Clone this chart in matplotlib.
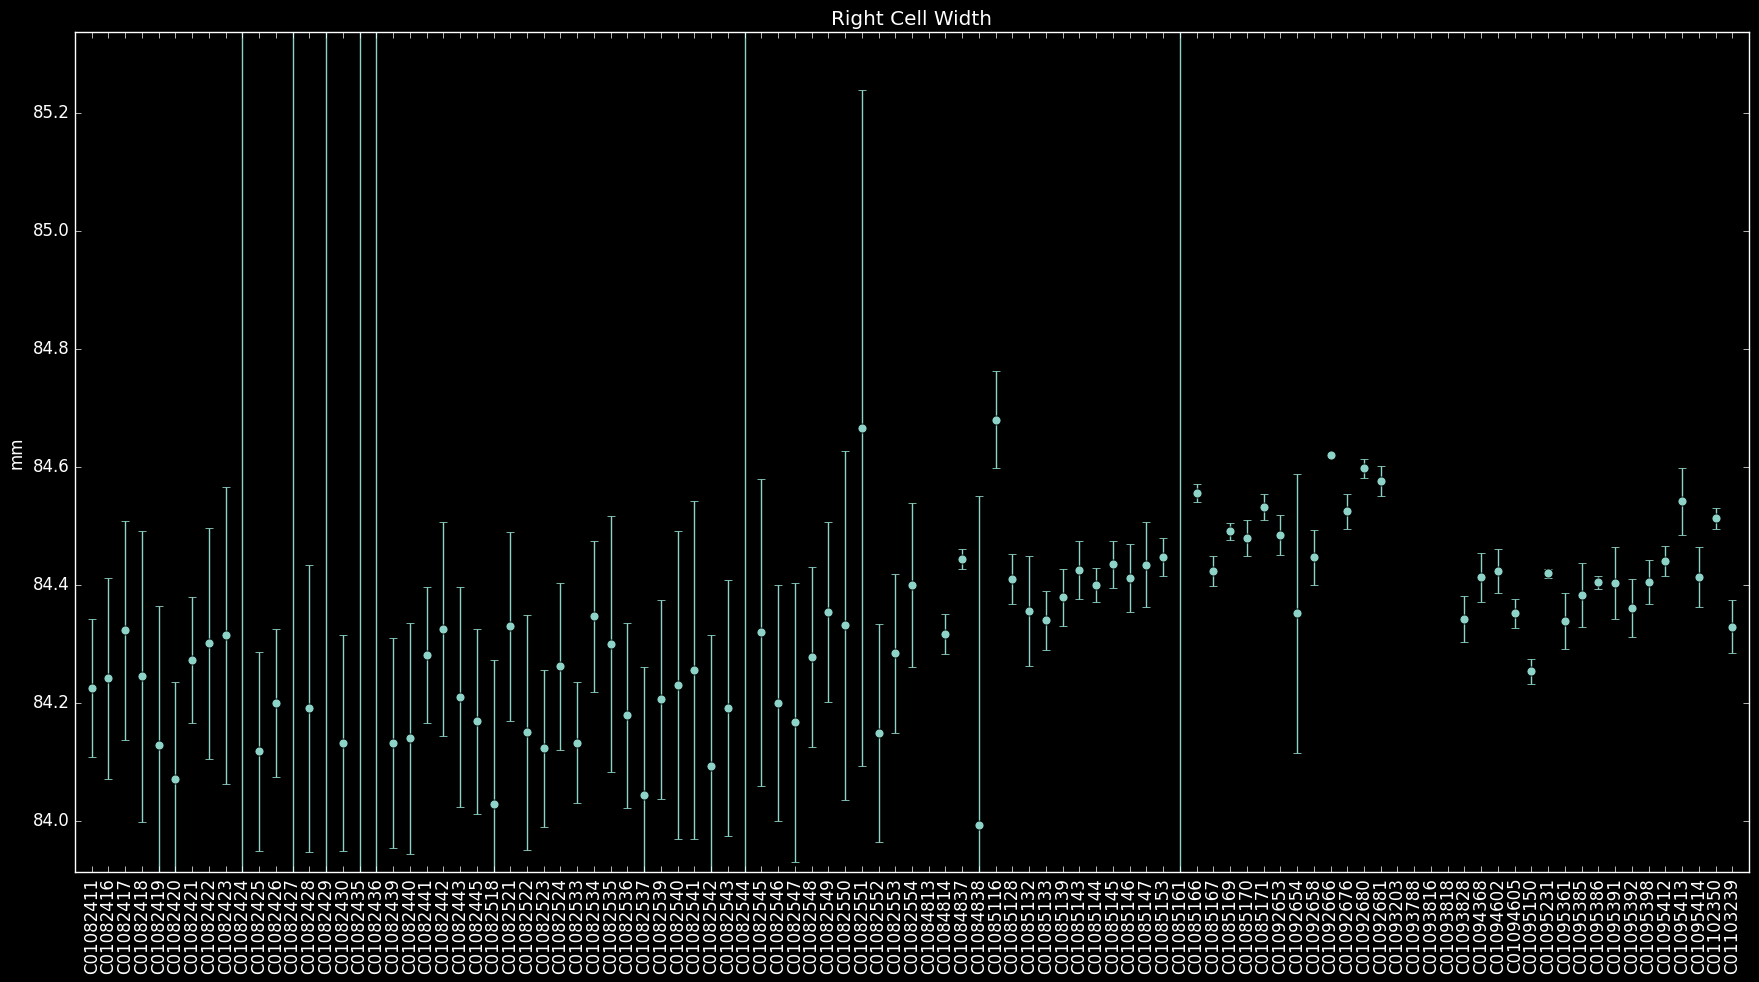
import numpy as np
import matplotlib
matplotlib.use("Agg")
import matplotlib.pyplot as plt

plt.style.use(["classic", "dark_background"])
plt.rcParams["font.family"] = ["DejaVu Sans"]

cells = [
    "C01082411", "C01082416", "C01082417", "C01082418", "C01082419", "C01082420",
    "C01082421", "C01082422", "C01082423", "C01082424", "C01082425", "C01082426",
    "C01082427", "C01082428", "C01082429", "C01082430", "C01082435", "C01082436",
    "C01082439", "C01082440", "C01082441", "C01082442", "C01082443", "C01082445",
    "C01082518", "C01082521", "C01082522", "C01082523", "C01082524", "C01082533",
    "C01082534", "C01082535", "C01082536", "C01082537", "C01082539", "C01082540",
    "C01082541", "C01082542", "C01082543", "C01082544", "C01082545", "C01082546",
    "C01082547", "C01082548", "C01082549", "C01082550", "C01082551", "C01082552",
    "C01082553", "C01082554", "C01084813", "C01084814", "C01084837", "C01084838",
    "C01085116", "C01085128", "C01085132", "C01085133", "C01085139", "C01085143",
    "C01085144", "C01085145", "C01085146", "C01085147", "C01085153", "C01085161",
    "C01085166", "C01085167", "C01085169", "C01085170", "C01085171", "C01092653",
    "C01092654", "C01092658", "C01092666", "C01092676", "C01092680", "C01092681",
    "C01093203", "C01093788", "C01093816", "C01093818", "C01093828", "C01094368",
    "C01094602", "C01094605", "C01095150", "C01095231", "C01095361", "C01095385",
    "C01095386", "C01095391", "C01095392", "C01095398", "C01095412", "C01095413",
    "C01095414", "C01102350", "C01103239",
]

nan = np.nan
mean_width = [
    84.225, 84.242, 84.323, 84.245, 84.128, 84.071, 84.273, 84.301, 84.315, 86.500,
    84.118, 84.200, 86.500, 84.191, 86.500, 84.132, 86.500, 86.500, 84.133, 84.140,
    84.281, 84.325, 84.210, 84.169, 84.028, 84.330, 84.150, 84.123, 84.262, 84.133,
    84.347, 84.300, 84.179, 84.044, 84.206, 84.230, 84.256, 84.093, 84.191, 86.500,
    84.320, 84.200, 84.167, 84.278, 84.354, 84.332, 84.666, 84.149, 84.284, 84.400,
    nan, 84.317, 84.444, 83.994, 84.680, 84.410, 84.356, 84.340, 84.379, 84.425,
    84.400, 84.435, 84.412, 84.434, 84.447, 86.500, 84.556, 84.424, 84.491, 84.480,
    84.532, 84.485, 84.352, 84.447, 84.620, 84.525, 84.598, 84.576, nan, nan,
    nan, nan, 84.342, 84.413, 84.424, 84.352, 84.254, 84.420, 84.339, 84.383,
    84.405, 84.403, 84.361, 84.405, 84.441, 84.542, 84.413, 84.513, 84.329,
]

std_width = [
    0.117, 0.170, 0.185, 0.246, 0.236, 0.164, 0.107, 0.196, 0.252, 3.000,
    0.169, 0.126, 3.000, 0.243, 3.000, 0.183, 3.000, 3.000, 0.178, 0.196,
    0.115, 0.181, 0.187, 0.157, 0.245, 0.160, 0.200, 0.133, 0.142, 0.103,
    0.128, 0.217, 0.157, 0.217, 0.168, 0.261, 0.286, 0.222, 0.217, 3.000,
    0.260, 0.200, 0.236, 0.152, 0.152, 0.296, 0.573, 0.185, 0.135, 0.139,
    nan, 0.034, 0.017, 0.557, 0.082, 0.043, 0.093, 0.050, 0.048, 0.049,
    0.029, 0.040, 0.057, 0.072, 0.032, 3.000, 0.015, 0.025, 0.014, 0.031,
    0.022, 0.034, 0.237, 0.047, 0.000, 0.030, 0.016, 0.025, nan, nan,
    nan, nan, 0.039, 0.041, 0.037, 0.025, 0.021, 0.008, 0.048, 0.054,
    0.011, 0.061, 0.049, 0.037, 0.026, 0.057, 0.051, 0.018, 0.045,
]

fig = plt.figure(figsize=(17.59, 9.82), dpi=100)
ax = fig.add_axes([75 / 1759, 1 - 872.3 / 982, (1749 - 75) / 1759, (872.3 - 32.3) / 982])

x = np.arange(len(cells))
ax.errorbar(x, mean_width, yerr=std_width, fmt="o", color="#8dd3c7",
            ecolor="#8dd3c7", elinewidth=1.0, capsize=3, markersize=6.5,
            markeredgecolor="black", markeredgewidth=0.6)

ax.set_xlim(-1, len(cells))
ax.set_ylim(83.913, 85.337)
ax.set_xticks(x)
ax.set_xticklabels(cells, rotation=90)
ax.set_yticks([84.0, 84.2, 84.4, 84.6, 84.8, 85.0, 85.2])
ax.set_title("Right Cell Width")
ax.set_ylabel("mm")

fig.savefig("out.png", dpi=100, facecolor="black")
